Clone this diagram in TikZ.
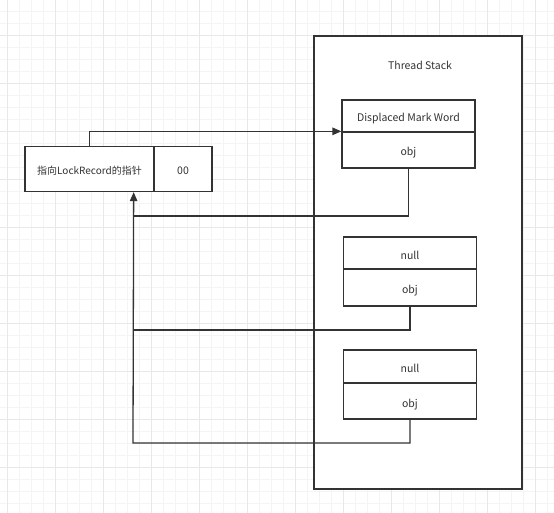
\documentclass[tikz,border=0pt]{standalone}
\usepackage{fontspec}
\setmainfont{Noto Sans CJK SC}
\usetikzlibrary{arrows.meta}
\definecolor{edgegray}{HTML}{333333}
\definecolor{gridminor}{HTML}{F4F4F4}
\definecolor{gridmajor}{HTML}{E8E8E8}
\tikzset{
  cell/.style={draw=edgegray,line width=1.3pt,inner sep=0pt,text=edgegray,
    text height=12pt,text depth=0pt,font=\fontsize{10.5}{12}\selectfont},
  link/.style={draw=edgegray,line width=1.3pt},
  ptrarrow/.style={link,-{Triangle[length=9pt,width=7.5pt]}}
}
\begin{document}
\begin{tikzpicture}[x=1pt,y=-1pt]
  \useasboundingbox (0,0) rectangle (554,513);
  % background grid
  \begin{scope}[line width=0.8pt]
    \foreach \x in {7.3,19.3,...,554} \draw[gridminor] (\x,0) -- (\x,513);
    \foreach \y in {11.3,23.3,...,513} \draw[gridminor] (0,\y) -- (554,\y);
    \foreach \x in {7.3,55.3,...,554} \draw[gridmajor] (\x,0) -- (\x,513);
    \foreach \y in {35.3,83.3,...,513} \draw[gridmajor] (0,\y) -- (554,\y);
  \end{scope}
  % thread stack
  \node[cell,fill=white,minimum width=208pt,minimum height=453pt] (stack) at (418,262.5) {};
  \node[text=edgegray,font=\fontsize{10.5}{12}\selectfont] (title) at (420,65.5) {Thread Stack};
  \begin{scope}[every node/.style={cell,minimum width=133pt}]
    \node[minimum height=32pt] (dmw) at (408.5,116) {Displaced Mark Word};
    \node[minimum height=36pt] (obj1) at (408.5,150) {obj};
    \node[minimum height=32pt] (null1) at (410,253) {null};
    \node[minimum height=37pt] (obj2) at (410,287.5) {obj};
    \node[minimum height=33pt] (null2) at (410,366.5) {null};
    \node[minimum height=36pt] (obj3) at (410,401) {obj};
  \end{scope}
  % mark word of the object
  \begin{scope}[every node/.style={cell,fill=white,minimum height=45pt}]
    \node[minimum width=129pt,font=\fontsize{10}{12}\selectfont] (ptr) at (89.5,169) {指向LockRecord的指针};
    \node[minimum width=58pt] (tag) at (183,169) {00};
  \end{scope}
  \coordinate (hook) at ([xshift=-21pt]ptr.south east);
  \coordinate (j1) at (133,216);
  \coordinate (j2) at (133,330);
  \coordinate (j3) at (133,443);
  \draw[ptrarrow] (ptr.north) |- (obj1.north west);
  \draw[link] (obj1.south) |- (j1);
  \draw[link] (obj2.south) |- (j2);
  \draw[ptrarrow] (obj3.south) |- (j3) -- (hook);
\end{tikzpicture}
\end{document}
